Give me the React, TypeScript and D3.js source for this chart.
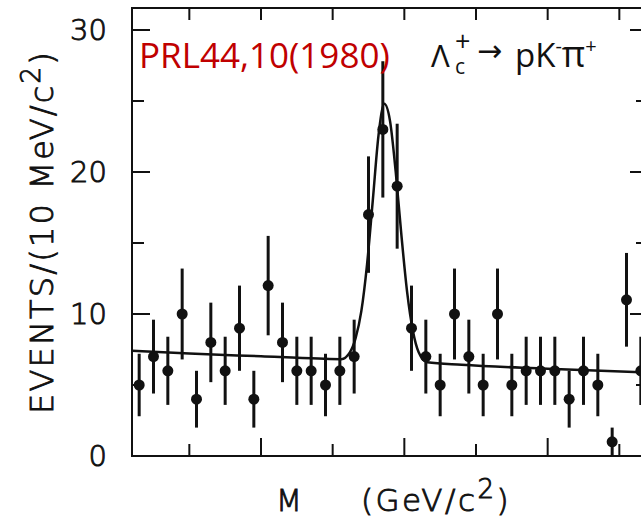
import React from "react";
import * as d3 from "d3";

const width = 641;
const height = 516;
const margin = { top: 8, left: 132, bottom: 456, right: 648 };

// bin centres in GeV/c^2 (10 MeV bins)
const masses = [
  2.115, 2.125, 2.135, 2.145, 2.155, 2.165, 2.175, 2.185, 2.195, 2.205,
  2.215, 2.225, 2.235, 2.245, 2.255, 2.265, 2.275, 2.285, 2.295, 2.305,
  2.315, 2.325, 2.335, 2.345, 2.355, 2.365, 2.375, 2.385, 2.395, 2.405,
  2.415, 2.425, 2.435, 2.445, 2.455, 2.465,
];
// events per bin
const counts = [
  5, 7, 6, 10, 4, 8, 6, 9, 4, 12,
  8, 6, 6, 5, 6, 7, 17, 23, 19, 9,
  7, 5, 10, 7, 5, 10, 5, 6, 6, 6,
  4, 6, 5, 1, 11, 6,
];
// half length of the error bars
const errors = [
  2.2, 2.6, 2.4, 3.2, 2.0, 2.8, 2.4, 3.0, 2.0, 3.5,
  2.8, 2.4, 2.4, 2.2, 2.4, 2.6, 4.1, 4.8, 4.4, 3.0,
  2.6, 2.2, 3.2, 2.6, 2.2, 3.2, 2.2, 2.4, 2.4, 2.4,
  2.0, 2.4, 2.2, 1.0, 3.3, 2.4,
];

// fitted curve (mass, events)
const fitMass = [
  2.11, 2.15, 2.2, 2.24, 2.256, 2.262, 2.266, 2.27, 2.274, 2.278, 2.282,
  2.286, 2.29, 2.294, 2.298, 2.302, 2.306, 2.31, 2.316, 2.34, 2.4, 2.47,
];
const fitValue = [
  7.42, 7.22, 7.02, 6.86, 6.82, 7.3, 8.3, 10.2, 13.5, 18.0, 22.6,
  24.8, 23.6, 20.0, 15.5, 11.5, 8.8, 7.3, 6.6, 6.42, 6.15, 5.87,
];

const yLabels = [0, 10, 20, 30];
const yTicks = [0, 5, 10, 15, 20, 25, 30];
const xTicks = [2.15, 2.2, 2.25, 2.3, 2.35, 2.4, 2.45];

const x = d3.scaleLinear().domain([2.11, 2.47]).range([margin.left, margin.right]);
const y = d3.scaleLinear().domain([0, 30]).range([margin.bottom, 30]);

const isMajor = (v: number, step: number) => Math.abs(v / step - Math.round(v / step)) < 1e-6;

// thin "lettering" look of the scanned figure
const letter = {
  fontFamily: "'DejaVu Sans', sans-serif",
  fontWeight: 200,
  fill: "#111",
  stroke: "#111",
  strokeWidth: 0.9,
};

export default function App() {
  const fitLine = d3
    .line<number>()
    .x((d, i) => x(fitMass[i]))
    .y((d) => y(d))
    .curve(d3.curveMonotoneX)(fitValue);

  return (
    <svg
      width={width}
      height={height}
      style={{ position: "absolute", left: 0, top: 0, background: "#fff" }}
    >
      {/* frame */}
      <rect
        x={margin.left}
        y={margin.top}
        width={margin.right - margin.left}
        height={margin.bottom - margin.top}
        fill="none"
        stroke="#111"
        strokeWidth={2}
      />

      {/* y ticks, left and right */}
      {yTicks.map((t) => {
        const len = isMajor(t, 10) ? 18 : 12;
        return (
          <g key={"yt" + t} stroke="#111" strokeWidth={2}>
            <line x1={margin.left} x2={margin.left + len} y1={y(t)} y2={y(t)} />
            <line x1={margin.right} x2={margin.right - len} y1={y(t)} y2={y(t)} />
          </g>
        );
      })}
      {yLabels.map((t) => (
        <text
          key={"yl" + t}
          x={107}
          y={y(t)}
          textAnchor="end"
          dominantBaseline="central"
          fontSize={29}
          {...letter}
        >
          {t}
        </text>
      ))}

      {/* x ticks, bottom and top */}
      {xTicks.map((t) => {
        const len = isMajor(t, 0.1) ? 18 : 12;
        return (
          <g key={"xt" + t} stroke="#111" strokeWidth={2}>
            <line x1={x(t)} x2={x(t)} y1={margin.bottom} y2={margin.bottom - len} />
            <line x1={x(t)} x2={x(t)} y1={margin.top} y2={margin.top + 12} />
          </g>
        );
      })}

      {/* fit */}
      <path d={fitLine || ""} fill="none" stroke="#111" strokeWidth={2.5} />

      {/* data points with error bars */}
      {counts.map((c, i) => (
        <g key={"p" + i}>
          <line
            x1={x(masses[i])}
            x2={x(masses[i])}
            y1={y(Math.max(0, c - errors[i]))}
            y2={y(c + errors[i])}
            stroke="#111"
            strokeWidth={3}
          />
          <circle cx={x(masses[i])} cy={y(c)} r={5.5} fill="#111" />
        </g>
      ))}

      {/* axis titles */}
      <text
        transform="translate(53,232) rotate(-90)"
        textAnchor="middle"
        fontSize={32}
        letterSpacing={2.2}
        {...letter}
      >
        EVENTS/(10 MeV/c
        <tspan fontSize={26} dy={-13}>2</tspan>
        <tspan dy={13}>)</tspan>
      </text>
      <text x={276} y={511} fontSize={30} {...letter}>
        M
      </text>
      <text x={361} y={511} fontSize={31} letterSpacing={2.5} {...letter}>
        (GeV/c
        <tspan fontSize={26} dy={-13}>2</tspan>
        <tspan dy={13}>)</tspan>
      </text>

      {/* annotations */}
      <text x={139} y={68} fontFamily="'Open Sans', sans-serif" fontSize={35} fill="#c00000">
        PRL44,10(1980)
      </text>
      <g fontFamily="'Open Sans', sans-serif" fill="#111">
        <text x={431} y={67} fontSize={31}>Λ</text>
        <text x={455} y={74} fontSize={21}>c</text>
        <text x={455} y={51} fontSize={27}>+</text>
        <text x={477} y={61} fontSize={30} fontFamily="'DejaVu Sans', sans-serif">→</text>
        <text x={515} y={67} fontSize={33}>
          pK
          <tspan fontSize={20} dy={-14}>-</tspan>
          <tspan dy={14} fontSize={36}>π</tspan>
          <tspan fontSize={20} dy={-14}>+</tspan>
        </text>
      </g>
    </svg>
  );
}
